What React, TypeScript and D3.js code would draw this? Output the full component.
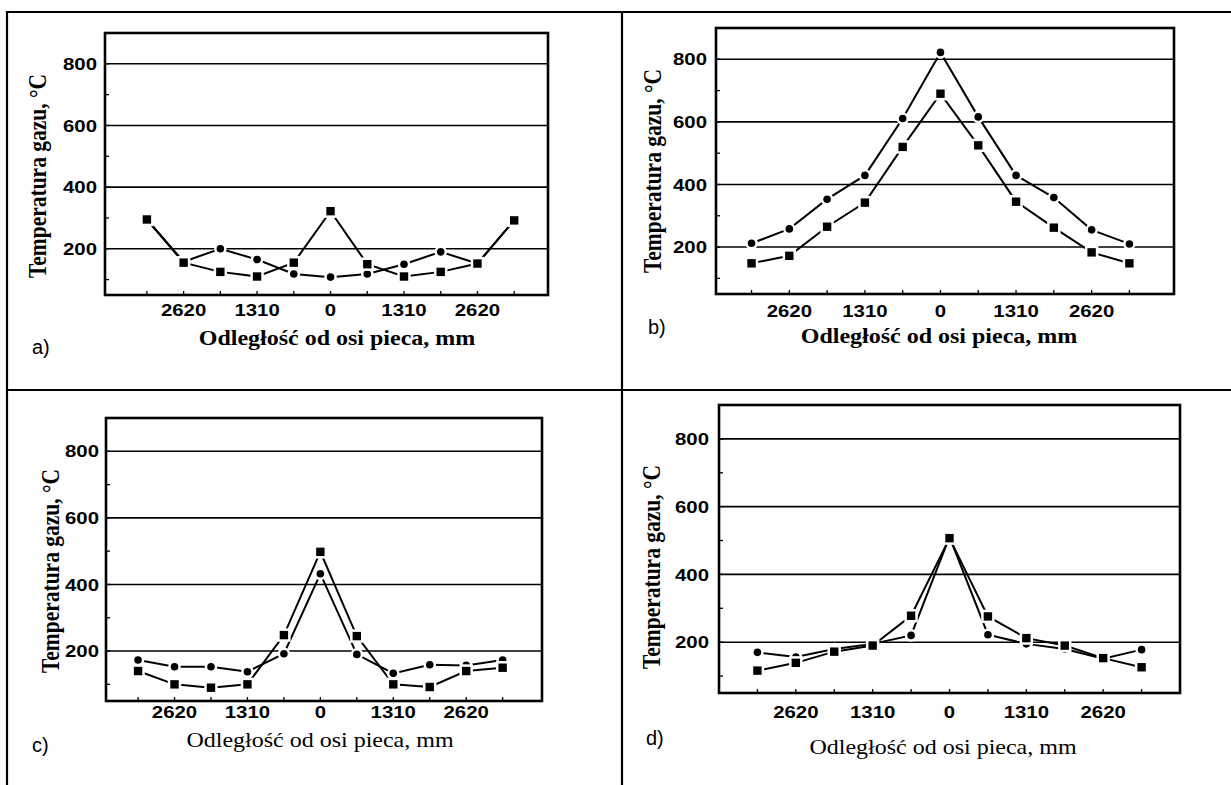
import React from "react";
import * as d3 from "d3";

// ---- data ----
const xPositions = [-3275, -2620, -1965, -1310, -655, 0, 655, 1310, 1965, 2620, 3275];
const xTickValues = [-2620, -1310, 0, 1310, 2620];
const xTickLabels = ["2620", "1310", "0", "1310", "2620"];
const yTickValues = [200, 400, 600, 800];
const yMinorTicks = [100, 200, 300, 400, 500, 600, 700, 800];
const panelLabels = ["a)", "b)", "c)", "d)"];
const yTitle = "Temperatura gazu, °C";
const xTitle = "Odległość od osi pieca,  mm";

const aSquares = [295, 155, 125, 110, 155, 322, 150, 110, 125, 152, 292];
const aCircles = [295, 158, 200, 165, 118, 108, 118, 150, 190, 152, 292];
const bCircles = [212, 258, 353, 429, 611, 822, 616, 429, 358, 255, 210];
const bSquares = [148, 172, 265, 342, 520, 690, 525, 345, 262, 183, 148];
const cCircles = [173, 153, 153, 138, 192, 432, 190, 133, 159, 157, 173];
const cSquares = [140, 100, 90, 100, 248, 498, 245, 100, 92, 140, 150];
const dCircles = [170, 156, 180, 195, 220, 511, 222, 195, 180, 151, 178];
const dSquares = [116, 139, 172, 190, 278, 507, 276, 212, 190, 153, 126];

const seriesCircles = [aCircles, bCircles, cCircles, dCircles];
const seriesSquares = [aSquares, bSquares, cSquares, dSquares];

// ---- layout ----
const yDomain = [50, 900];
const layouts = [
  { box: [105, 548, 33, 295], xDom: [-4022, 3878], yTickRight: 97, yTitle: [37, 176], xTickBase: 316, xTitle: [337, 345], bold: true, label: [32, 354] },
  { box: [716, 1174, 28, 294], xDom: [-3891, 4048], yTickRight: 707, yTitle: [652, 171], xTickBase: 317, xTitle: [939, 343], bold: true, label: [648, 334] },
  { box: [106, 542, 418, 701], xDom: [-3851, 3982], yTickRight: 99, yTitle: [50, 571], xTickBase: 718, xTitle: [320, 747], bold: false, label: [32, 752] },
  { box: [719, 1180, 405, 693], xDom: [-3930, 3930], yTickRight: 709, yTitle: [651, 567], xTickBase: 718, xTitle: [943, 754], bold: false, label: [646, 745] },
];

const SX = 1.2; // horizontal stretch of the scanned text
const sans = "'Liberation Sans', Arial, sans-serif";
const serif = "'Liberation Serif', 'Times New Roman', serif";

function Panel({ idx }: { idx: number }) {
  const L = layouts[idx];
  const [x0, x1, y0, y1] = L.box;
  const x = d3.scaleLinear().domain(L.xDom).range([x0, x1]);
  const y = d3.scaleLinear().domain(yDomain).range([y1, y0]);
  const line = d3.line<number>().x((_, i) => x(xPositions[i])).y((v) => y(v));
  const circ = seriesCircles[idx];
  const sq = seriesSquares[idx];
  return (
    <g>
      {yTickValues.map((t) => (
        <line key={"g" + t} x1={x0} x2={x1} y1={y(t)} y2={y(t)} stroke="#000" strokeWidth={1.6} />
      ))}
      {yMinorTicks.map((t) => (
        <line key={"ym" + t} x1={x0} x2={x0 + 4} y1={y(t)} y2={y(t)} stroke="#000" strokeWidth={1.3} />
      ))}
      {xPositions.map((p) => (
        <line key={"xm" + p} x1={x(p)} x2={x(p)} y1={y1} y2={y1 - 4} stroke="#000" strokeWidth={1.3} />
      ))}
      <rect x={x0} y={y0} width={x1 - x0} height={y1 - y0} fill="none" stroke="#000" strokeWidth={2.6} />
      <path d={line(circ) || ""} fill="none" stroke="#000" strokeWidth={2} />
      <path d={line(sq) || ""} fill="none" stroke="#000" strokeWidth={2} />
      {circ.map((v, i) => (
        <circle key={"c" + i} cx={x(xPositions[i])} cy={y(v)} r={3.8} fill="#000" stroke="#fff" strokeWidth={5} paintOrder="stroke" />
      ))}
      {sq.map((v, i) => (
        <rect key={"s" + i} x={x(xPositions[i]) - 4.2} y={y(v) - 4.2} width={8.4} height={8.4} fill="#000" stroke="#fff" strokeWidth={5} paintOrder="stroke" />
      ))}
      {yTickValues.map((t) => (
        <text key={"yl" + t} transform={`translate(${L.yTickRight},${y(t)}) scale(${SX},1)`} textAnchor="end" dy="0.36em"
          fontFamily={sans} fontWeight="bold" fontSize={17} fill="#000">{t}</text>
      ))}
      {xTickValues.map((t, i) => (
        <text key={"xl" + i} transform={`translate(${x(t)},${L.xTickBase}) scale(${SX},1)`} textAnchor="middle"
          fontFamily={sans} fontWeight="bold" fontSize={17} fill="#000">{xTickLabels[i]}</text>
      ))}
      <text transform={`translate(${L.yTitle[0]},${L.yTitle[1]}) scale(${SX},1) rotate(-90)`} textAnchor="middle" dy="0.35em"
        fontFamily={serif} fontWeight="bold" fontSize={21.5} fill="#000">{yTitle}</text>
      <text transform={`translate(${L.xTitle[0]},${L.xTitle[1]}) scale(${SX},1)`} textAnchor="middle"
        fontFamily={serif} fontWeight={L.bold ? "bold" : "normal"} fontSize={20} fill="#000">{xTitle}</text>
      <text x={L.label[0]} y={L.label[1]} fontFamily={sans} fontSize={20} fill="#000">{panelLabels[idx]}</text>
    </g>
  );
}

export default function App() {
  return (
    <svg width={1231} height={785} style={{ position: "absolute", left: 0, top: 0, background: "#fff" }}>
      <rect x={0} y={0} width={1231} height={785} fill="#fff" />
      <line x1={6} x2={1231} y1={12} y2={12} stroke="#000" strokeWidth={2.2} />
      <line x1={7} x2={7} y1={11} y2={785} stroke="#000" strokeWidth={2.2} />
      <line x1={6} x2={1231} y1={390} y2={390} stroke="#000" strokeWidth={2.2} />
      <line x1={622} x2={622} y1={11} y2={785} stroke="#000" strokeWidth={2.2} />
      {[0, 1, 2, 3].map((i) => <Panel key={i} idx={i} />)}
    </svg>
  );
}
